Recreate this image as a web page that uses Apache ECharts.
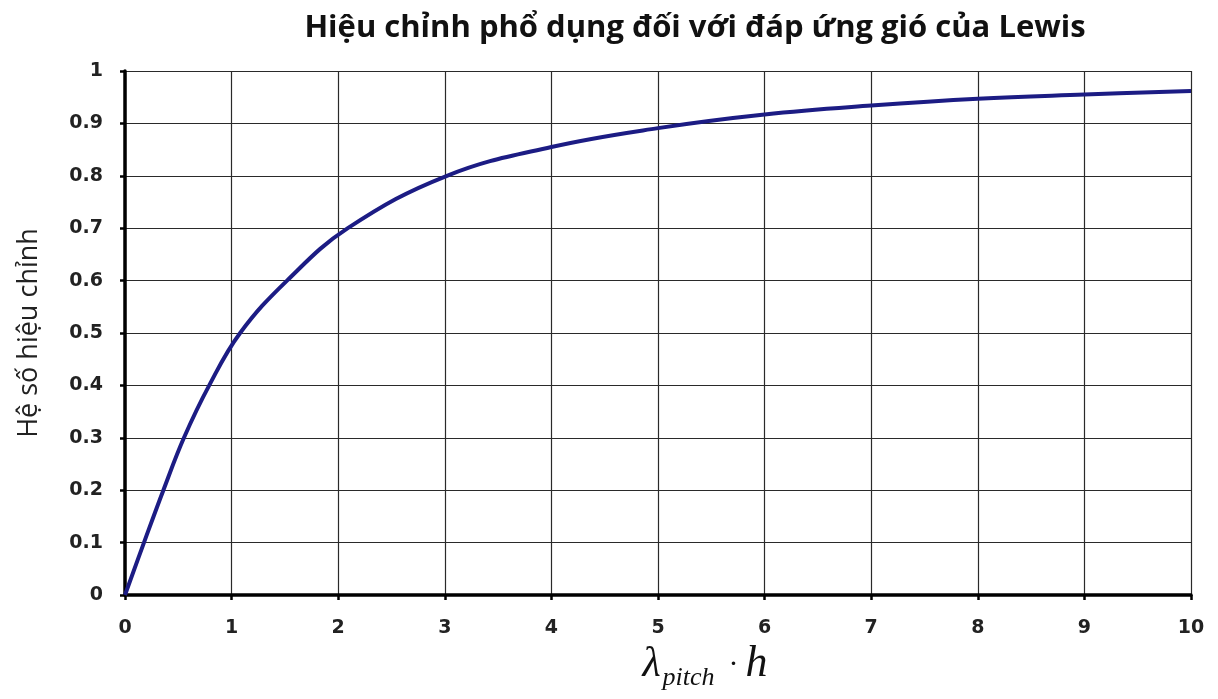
<!DOCTYPE html>
<html>
<head>
<meta charset="utf-8">
<script src="https://cdn.jsdelivr.net/npm/echarts@6/dist/echarts.min.js"></script>
<style>
html,body{margin:0;padding:0;background:#fff;}
#chart{width:1218px;height:699px;}
</style>
</head>
<body>
<div id="chart"></div>
<script>
const titleText = 'Hiệu chỉnh phổ dụng đối với đáp ứng gió của Lewis';
const yAxisName = 'Hệ số hiệu chỉnh';
const xValues = [0, 0.178, 0.36, 0.553, 0.79, 1.08, 1.52, 2.09, 3.02, 4.0, 5.0, 6.0, 7.0, 8.0, 9.0, 10.0];
const yValues = [0, 0.10, 0.20, 0.30, 0.40, 0.50, 0.60, 0.70, 0.80, 0.855, 0.891, 0.917, 0.934, 0.947, 0.955, 0.962];

const seriesData = xValues.map((x, i) => [x, yValues[i]]);

const chart = echarts.init(document.getElementById('chart'), null, {renderer: 'canvas'});
const labelStyle = {fontFamily: 'DejaVu Sans', fontWeight: 'bold', fontSize: 19, color: '#222'};
chart.setOption({
  backgroundColor: '#ffffff',
  animation: false,
  title: {
    text: titleText,
    left: 690,
    top: 8,
    textAlign: 'center',
    textStyle: {fontFamily: 'Open Sans', fontWeight: 'bold', fontSize: 31, color: '#111'}
  },
  grid: {left: 125, right: 27, top: 71, bottom: 104, containLabel: false, outerBoundsMode: 'none'},
  xAxis: {
    type: 'value', min: 0, max: 10, interval: 1,
    axisLine: {show: true, lineStyle: {color: '#000', width: 3.5}},
    axisTick: {show: true, length: 5, lineStyle: {color: '#000', width: 2.5}},
    axisLabel: Object.assign({margin: 24}, labelStyle),
    splitLine: {show: true, lineStyle: {color: '#2a2a2a', width: 1.2}},
    name: '{l|λ}{s|pitch}{d|·}{h|h}',
    nameLocation: 'middle',
    nameGap: 40,
    nameTextStyle: {
      padding: [0, 0, 0, 94],
      rich: {
        l: {fontFamily: 'Liberation Serif', fontStyle: 'italic', fontSize: 42, color: '#111'},
        s: {fontFamily: 'Liberation Serif', fontStyle: 'italic', fontSize: 26, color: '#111', padding: [26, 0, 0, 2]},
        d: {fontFamily: 'Liberation Serif', fontSize: 30, color: '#111', padding: [0, 7, 0, 14]},
        h: {fontFamily: 'Liberation Serif', fontStyle: 'italic', fontSize: 44, color: '#111'}
      }
    }
  },
  yAxis: {
    type: 'value', min: 0, max: 1, interval: 0.1,
    axisLine: {show: true, lineStyle: {color: '#000', width: 3.5}},
    axisTick: {show: true, length: 5, lineStyle: {color: '#000', width: 2.5}},
    axisLabel: Object.assign({margin: 22}, labelStyle),
    splitLine: {show: true, lineStyle: {color: '#2a2a2a', width: 1.2}},
    name: yAxisName,
    nameLocation: 'middle',
    nameGap: 82,
    nameTextStyle: {fontFamily: 'Open Sans', fontSize: 27, color: '#222'}
  },
  series: [{
    type: 'line',
    data: seriesData,
    smooth: 0.4,
    showSymbol: false,
    lineStyle: {color: '#1c1c84', width: 4},
    z: 5
  }]
});
</script>
</body>
</html>
